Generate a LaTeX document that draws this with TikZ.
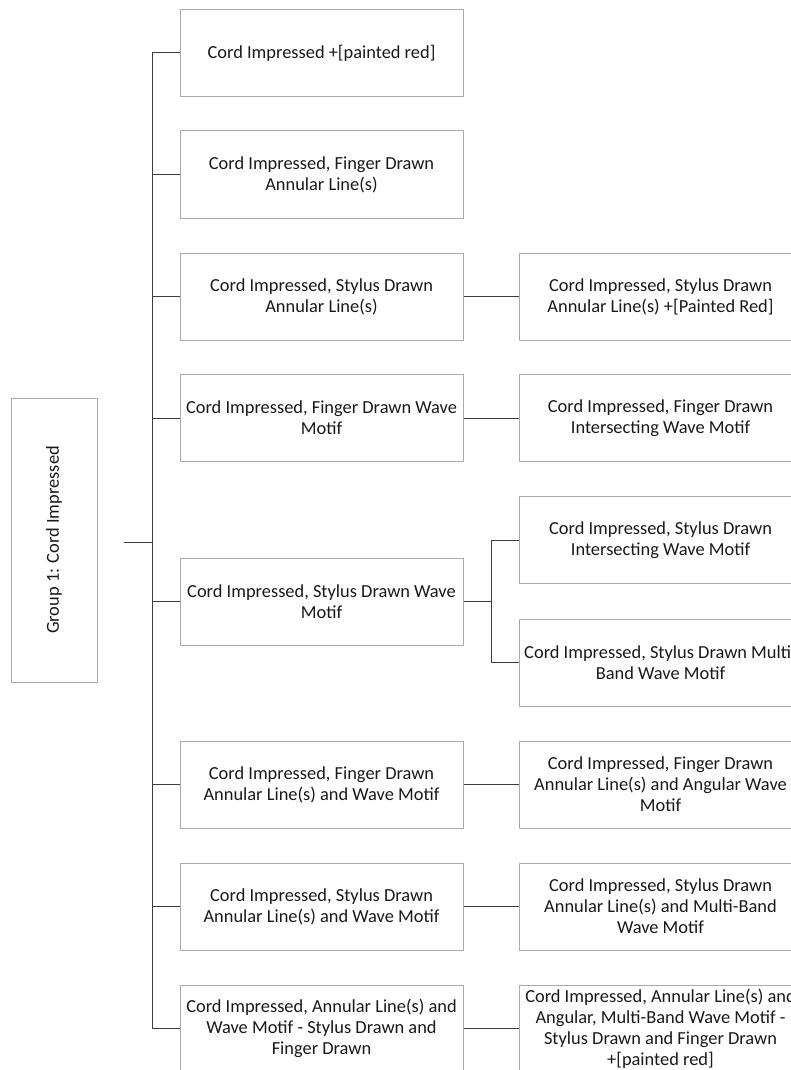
\documentclass[tikz,border=0pt]{standalone}
\usepackage{fontspec}
\setmainfont{Carlito}
\usetikzlibrary{positioning}
\definecolor{boxgray}{RGB}{170,170,170}
\definecolor{linegray}{RGB}{60,60,60}
\definecolor{textgray}{RGB}{25,25,25}

\begin{document}
\begin{tikzpicture}[x=0.75pt, y=-0.75pt,
    catbox/.style={draw=boxgray, line width=0.75pt, inner sep=0pt, align=center,
        minimum width=212.25pt, minimum height=65.25pt, text=textgray,
        font=\fontsize{13.8}{15.8}\selectfont},
    groupbox/.style={catbox, rotate=90, minimum width=213pt, minimum height=64.5pt},
    link/.style={draw=linegray, line width=0.75pt}]
            \useasboundingbox (0,0) rectangle (791,1070);

            % Group
            \node[groupbox] (grp) at (54,540) {Group 1: Cord Impressed};
            \coordinate (stub) at (124,542);
            \coordinate (trunk) at (152,542);

            % First level
            \node[catbox] (a1) at (321.5,53) {Cord Impressed +[painted red]};
            \node[catbox] (a2) at (321.5,174.5) {Cord Impressed, Finger Drawn\\Annular Line(s)};
            \node[catbox] (a3) at (321.5,296.5) {Cord Impressed, Stylus Drawn\\Annular Line(s)};
            \node[catbox] (a4) at (321.5,418) {Cord Impressed, Finger Drawn Wave\\Motif};
            \node[catbox] (a5) at (321.5,601.5) {Cord Impressed, Stylus Drawn Wave\\Motif};
            \node[catbox] (a6) at (321.5,784.5) {Cord Impressed, Finger Drawn\\Annular Line(s) and Wave Motif};
            \node[catbox] (a7) at (321.5,906.5) {Cord Impressed, Stylus Drawn\\Annular Line(s) and Wave Motif};
            \node[catbox] (a8) at (321.5,1028.5) {Cord Impressed, Annular Line(s) and\\Wave Motif - Stylus Drawn and\\Finger Drawn};

            % Second level
            \node[catbox] (b3) at (660.5,296.5) {Cord Impressed, Stylus Drawn\\Annular Line(s) +[Painted Red]};
            \node[catbox] (b4) at (660.5,418) {Cord Impressed, Finger Drawn\\Intersecting Wave Motif};
            \node[catbox] (b5a) at (660.5,540) {Cord Impressed, Stylus Drawn\\Intersecting Wave Motif};
            \node[catbox] (b5b) at (660.5,662.5) {Cord Impressed, Stylus Drawn Multi-\\Band Wave Motif};
            \node[catbox] (b6) at (660.5,784.5) {Cord Impressed, Finger Drawn\\Annular Line(s) and Angular Wave\\Motif};
            \node[catbox] (b7) at (660.5,906.5) {Cord Impressed, Stylus Drawn\\Annular Line(s) and Multi-Band\\Wave Motif};
            \node[catbox] (b8) at (660.5,1028.5) {Cord Impressed, Annular Line(s) and\\Angular, Multi-Band Wave Motif -\\Stylus Drawn and Finger Drawn\\+[painted red]};

            % Trunk
            \draw[link] (stub) -- (trunk);
            \draw[link] (trunk |- a1.west) -- (trunk |- a8.west);
            \foreach \n in {a1,a2,a3,a4,a5,a6,a7,a8}
                \draw[link] (trunk |- \n.west) -- (\n.west);

            % Branches
            \foreach \n/\m in {a3/b3,a4/b4,a6/b6,a7/b7,a8/b8}
                \draw[link] (\n.east) -- (\m.west);
            \coordinate (fork) at (491,601.5);
            \draw[link] (a5.east) -- (fork);
            \draw[link] (fork |- b5a.west) -- (fork |- b5b.west);
            \draw[link] (fork |- b5a.west) -- (b5a.west);
            \draw[link] (fork |- b5b.west) -- (b5b.west);
        \end{tikzpicture}
\end{document}
